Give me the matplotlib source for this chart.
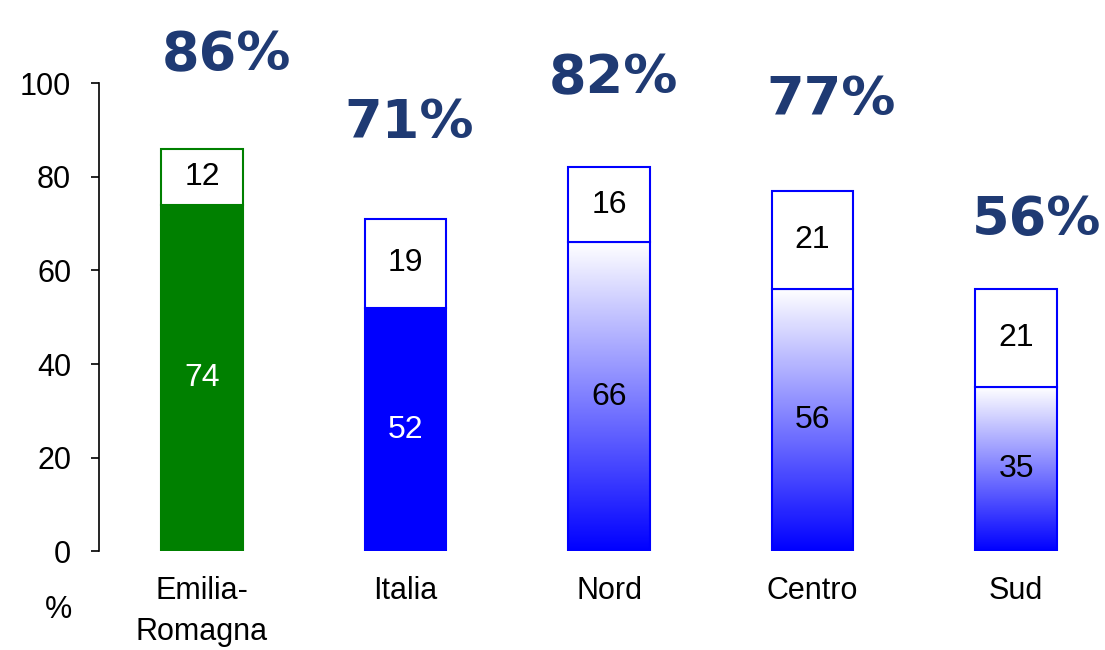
import numpy as np
import matplotlib
matplotlib.use("Agg")
import matplotlib.pyplot as plt
from matplotlib.colors import LinearSegmentedColormap

plt.rcParams['font.family'] = ['Liberation Sans', 'DejaVu Sans']

categories = ['Emilia-\nRomagna', 'Italia', 'Nord', 'Centro', 'Sud']
bottom_vals = [74, 52, 66, 56, 35]
top_vals = [12, 19, 16, 21, 21]
totals = ['86%', '71%', '82%', '77%', '56%']
yticks = [0, 20, 40, 60, 80, 100]

# styling per bar
edge_cols = ['#008000', '#0000ff', '#0000ff', '#0000ff', '#0000ff']
fill_mode = ['solid', 'solid', 'grad', 'grad', 'grad']
inner_txt = ['white', 'white', 'black', 'black', 'black']
lab_dx = [0.12, 0.02, 0.02, 0.09, 0.10]
lab_dy = [20, 20.5, 19, 19.4, 14.7]

fig = plt.figure(figsize=(11.05, 6.5), dpi=100)
ax = fig.add_axes([0.0896, 0.152, 0.9104, 0.72])

x = np.arange(len(categories))
w = 0.40
blue_white = LinearSegmentedColormap.from_list('bw', ['#0000ff', '#ffffff'])

for i in x:
    b, t = bottom_vals[i], top_vals[i]
    if fill_mode[i] == 'solid':
        ax.bar(i, b, w, color=edge_cols[i], edgecolor=edge_cols[i], lw=1.5, zorder=2)
    else:
        bars = ax.bar(i, b, w, facecolor='none', edgecolor=edge_cols[i], lw=1.5, zorder=3)
        grad = np.linspace(0, 1, 256).reshape(-1, 1)
        im = ax.imshow(grad, cmap=blue_white, origin='lower', aspect='auto',
                       extent=[i - w / 2, i + w / 2, 0, b], zorder=2)
        im.set_clip_path(bars[0])
    ax.bar(i, t, w, bottom=b, color='white', edgecolor=edge_cols[i], lw=1.5, zorder=3)
    ax.text(i, b / 2, str(b), ha='center', va='center', fontsize=23,
            color=inner_txt[i], zorder=4)
    ax.text(i, b + t / 2, str(t), ha='center', va='center', fontsize=23,
            color='black', zorder=4)
    ax.text(i + lab_dx[i], b + t + lab_dy[i], totals[i], ha='center', va='center',
            fontsize=39, fontweight='bold', color='#1f3a73',
            family=['DejaVu Sans'], clip_on=False, zorder=4)

ax.set_xlim(-0.506, 4.437)
ax.set_ylim(0, 100)
ax.set_yticks(yticks)
ax.set_xticks(x)
ax.set_xticklabels(categories, fontsize=22, linespacing=1.45)
ax.tick_params(axis='x', length=0, pad=18)
ax.tick_params(axis='y', labelsize=22, length=6, width=1.2, pad=14)
for s in ['top', 'right', 'bottom']:
    ax.spines[s].set_visible(False)
ax.spines['left'].set_linewidth(1.2)
fig.text(58 / 1105, 1 - 610 / 650, '%', ha='center', va='center', fontsize=22)

fig.savefig('out.png', dpi=100)
